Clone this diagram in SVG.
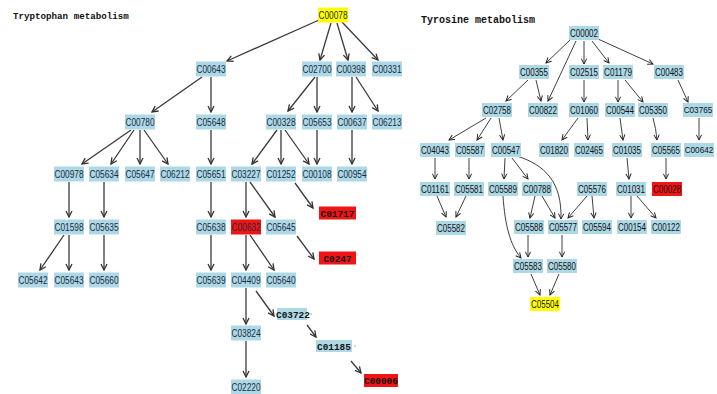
<svg xmlns="http://www.w3.org/2000/svg" width="717" height="394" viewBox="0 0 717 394">
<style>
.b{fill:#add8e6}
.y{fill:#ffff00}
.r{fill:#f01414}
.t{font-family:"Liberation Sans",Arial,sans-serif;font-size:10px;fill:#1b2b40;text-anchor:middle}
.rt{fill:#111}
.sm{font-size:8.2px}
.bt{font-family:"Liberation Mono","Courier New",monospace;font-size:9.4px;font-weight:bold;fill:#111;text-anchor:middle}
.title{font-family:"Liberation Mono","Courier New",monospace;font-weight:bold;fill:#111}
.e line,.e path{fill:none;stroke:#3a3a3a;stroke-width:1.3;marker-end:url(#a)}
.e2 line,.e2 path{fill:none;stroke:#2a2a2a;stroke-width:0.9;marker-end:url(#a2)}
</style>
<defs>
<marker id="a" viewBox="0 0 8 8" refX="7" refY="4" markerWidth="8" markerHeight="8" orient="auto" markerUnits="userSpaceOnUse"><path d="M1,1 L7,4 L1,7" fill="none" stroke="#333" stroke-width="1.3"/></marker>
<marker id="a2" viewBox="0 0 8 8" refX="7" refY="4" markerWidth="7" markerHeight="7" orient="auto" markerUnits="userSpaceOnUse"><path d="M1,1 L7,4 L1,7" fill="none" stroke="#222" stroke-width="1.1"/></marker>
</defs>
<rect width="717" height="394" fill="#fff"/>
<text class="title" x="13" y="19" font-size="9.2">Tryptophan metabolism</text>
<text class="title" x="421" y="23" font-size="10">Tyrosine metabolism</text>

<g id="connectors">
<g class="e">
<line x1="319" y1="20" x2="227" y2="61"/>
<line x1="331" y1="23" x2="320" y2="60"/>
<line x1="337" y1="23" x2="348" y2="60"/>
<line x1="342" y1="22" x2="378" y2="60"/>
<line x1="202" y1="77" x2="152" y2="112"/>
<line x1="211" y1="77" x2="211" y2="112"/>
<line x1="315" y1="77" x2="288" y2="111"/>
<line x1="317" y1="77" x2="317" y2="112"/>
<line x1="352" y1="77" x2="352" y2="112"/>
<line x1="356" y1="77" x2="378" y2="111"/>
<line x1="131" y1="130" x2="82" y2="164"/>
<line x1="134" y1="130" x2="111" y2="164"/>
<line x1="140" y1="130" x2="140" y2="164"/>
<line x1="144" y1="130" x2="168" y2="164"/>
<line x1="211" y1="130" x2="211" y2="164"/>
<line x1="277" y1="130" x2="252" y2="164"/>
<line x1="281" y1="130" x2="281" y2="164"/>
<line x1="285" y1="130" x2="309" y2="164"/>
<line x1="317" y1="130" x2="317" y2="164"/>
<line x1="352" y1="130" x2="352" y2="164"/>
<line x1="69" y1="182" x2="69" y2="217"/>
<line x1="104" y1="182" x2="104" y2="217"/>
<line x1="211" y1="182" x2="211" y2="217"/>
<line x1="246" y1="182" x2="246" y2="217"/>
<line x1="250" y1="182" x2="275" y2="217"/>
<line x1="295" y1="183" x2="313" y2="208"/>
<line x1="64" y1="235" x2="40" y2="270"/>
<line x1="69" y1="235" x2="69" y2="270"/>
<line x1="104" y1="235" x2="104" y2="270"/>
<line x1="211" y1="235" x2="211" y2="270"/>
<line x1="246" y1="235" x2="246" y2="270"/>
<line x1="250" y1="235" x2="274" y2="270"/>
<line x1="297" y1="236" x2="314" y2="259"/>
<line x1="246" y1="288" x2="246" y2="324"/>
<line x1="256" y1="291" x2="274" y2="316"/>
<line x1="307" y1="325" x2="316" y2="337"/>
<line x1="351" y1="361" x2="361" y2="373"/>
<line x1="246" y1="341" x2="246" y2="377"/>
</g>
<g class="e2">
<line x1="570" y1="40" x2="546" y2="63"/>
<line x1="576" y1="41" x2="548" y2="101"/>
<line x1="584" y1="41" x2="584" y2="64"/>
<line x1="592" y1="41" x2="609" y2="63"/>
<line x1="598" y1="39" x2="653" y2="64"/>
<line x1="528" y1="80" x2="506" y2="101"/>
<line x1="536" y1="80" x2="541" y2="101"/>
<line x1="584" y1="80" x2="584" y2="102"/>
<line x1="618" y1="80" x2="618" y2="102"/>
<line x1="625" y1="80" x2="643" y2="102"/>
<line x1="678" y1="80" x2="688" y2="102"/>
<line x1="486" y1="118" x2="449" y2="140"/>
<line x1="491" y1="118" x2="477" y2="140"/>
<line x1="499" y1="118" x2="503" y2="140"/>
<line x1="578" y1="118" x2="562" y2="140"/>
<line x1="587" y1="118" x2="588" y2="140"/>
<line x1="620" y1="118" x2="623" y2="140"/>
<path d="M653,118 Q656,128 657,140"/>
<line x1="699" y1="118" x2="699" y2="140"/>
<line x1="435" y1="158" x2="435" y2="179"/>
<line x1="469" y1="158" x2="469" y2="179"/>
<line x1="505" y1="158" x2="504" y2="179"/>
<line x1="512" y1="158" x2="528" y2="179"/>
<path d="M517,156 C545,165 562,182 561,219"/>
<line x1="627" y1="158" x2="629" y2="179"/>
<line x1="666" y1="158" x2="666" y2="179"/>
<line x1="437" y1="196" x2="446" y2="217"/>
<line x1="466" y1="196" x2="456" y2="217"/>
<path d="M503,196 C505,225 510,245 521,258"/>
<line x1="535" y1="196" x2="530" y2="218"/>
<line x1="542" y1="196" x2="555" y2="218"/>
<line x1="587" y1="196" x2="568" y2="218"/>
<line x1="592" y1="196" x2="594" y2="218"/>
<line x1="631" y1="196" x2="631" y2="218"/>
<line x1="637" y1="196" x2="656" y2="218"/>
<line x1="528" y1="235" x2="528" y2="257"/>
<line x1="562" y1="235" x2="562" y2="257"/>
<line x1="531" y1="274" x2="540" y2="295"/>
<line x1="559" y1="274" x2="550" y2="295"/>
</g>
</g>

<g id="tryptophan">
<g id="C00078"><rect class="y" x="318" y="7.5" width="30" height="15"/><text class="t" x="333" y="18.5" textLength="29" lengthAdjust="spacingAndGlyphs">C00078</text></g>
<g id="C00643"><rect class="b" x="196" y="61.5" width="30" height="15"/><text class="t" x="211" y="72.5" textLength="29" lengthAdjust="spacingAndGlyphs">C00643</text></g>
<g id="C02700"><rect class="b" x="302" y="61.5" width="30" height="15"/><text class="t" x="317" y="72.5" textLength="29" lengthAdjust="spacingAndGlyphs">C02700</text></g>
<g id="C00398"><rect class="b" x="336" y="61.5" width="30" height="15"/><text class="t" x="351" y="72.5" textLength="29" lengthAdjust="spacingAndGlyphs">C00398</text></g>
<g id="C00331"><rect class="b" x="372" y="61.5" width="30" height="15"/><text class="t" x="387" y="72.5" textLength="29" lengthAdjust="spacingAndGlyphs">C00331</text></g>
<g id="C00780"><rect class="b" x="125" y="114.5" width="30" height="15"/><text class="t" x="140" y="125.5" textLength="29" lengthAdjust="spacingAndGlyphs">C00780</text></g>
<g id="C05648"><rect class="b" x="196" y="114.5" width="30" height="15"/><text class="t" x="211" y="125.5" textLength="29" lengthAdjust="spacingAndGlyphs">C05648</text></g>
<g id="C00328"><rect class="b" x="266" y="114.5" width="30" height="15"/><text class="t" x="281" y="125.5" textLength="29" lengthAdjust="spacingAndGlyphs">C00328</text></g>
<g id="C05653"><rect class="b" x="302" y="114.5" width="30" height="15"/><text class="t" x="317" y="125.5" textLength="29" lengthAdjust="spacingAndGlyphs">C05653</text></g>
<g id="C00637"><rect class="b" x="337" y="114.5" width="30" height="15"/><text class="t" x="352" y="125.5" textLength="29" lengthAdjust="spacingAndGlyphs">C00637</text></g>
<g id="C06213"><rect class="b" x="372" y="114.5" width="30" height="15"/><text class="t" x="387" y="125.5" textLength="29" lengthAdjust="spacingAndGlyphs">C06213</text></g>
<g id="C00978"><rect class="b" x="54" y="166.5" width="30" height="15"/><text class="t" x="69" y="177.5" textLength="29" lengthAdjust="spacingAndGlyphs">C00978</text></g>
<g id="C05634"><rect class="b" x="89" y="166.5" width="30" height="15"/><text class="t" x="104" y="177.5" textLength="29" lengthAdjust="spacingAndGlyphs">C05634</text></g>
<g id="C05647"><rect class="b" x="125" y="166.5" width="30" height="15"/><text class="t" x="140" y="177.5" textLength="29" lengthAdjust="spacingAndGlyphs">C05647</text></g>
<g id="C06212"><rect class="b" x="160" y="166.5" width="30" height="15"/><text class="t" x="175" y="177.5" textLength="29" lengthAdjust="spacingAndGlyphs">C06212</text></g>
<g id="C05651"><rect class="b" x="196" y="166.5" width="30" height="15"/><text class="t" x="211" y="177.5" textLength="29" lengthAdjust="spacingAndGlyphs">C05651</text></g>
<g id="C03227"><rect class="b" x="231" y="166.5" width="30" height="15"/><text class="t" x="246" y="177.5" textLength="29" lengthAdjust="spacingAndGlyphs">C03227</text></g>
<g id="C01252"><rect class="b" x="266" y="166.5" width="30" height="15"/><text class="t" x="281" y="177.5" textLength="29" lengthAdjust="spacingAndGlyphs">C01252</text></g>
<g id="C00108"><rect class="b" x="302" y="166.5" width="30" height="15"/><text class="t" x="317" y="177.5" textLength="29" lengthAdjust="spacingAndGlyphs">C00108</text></g>
<g id="C00954"><rect class="b" x="337" y="166.5" width="30" height="15"/><text class="t" x="352" y="177.5" textLength="29" lengthAdjust="spacingAndGlyphs">C00954</text></g>
<g id="C01717"><rect class="r" x="319" y="206.5" width="37" height="13"/><text class="bt" x="337.5" y="216.5">C01717</text></g>
<g id="C01598"><rect class="b" x="54" y="219.5" width="30" height="15"/><text class="t" x="69" y="230.5" textLength="29" lengthAdjust="spacingAndGlyphs">C01598</text></g>
<g id="C05635"><rect class="b" x="89" y="219.5" width="30" height="15"/><text class="t" x="104" y="230.5" textLength="29" lengthAdjust="spacingAndGlyphs">C05635</text></g>
<g id="C05638"><rect class="b" x="196" y="219.5" width="30" height="15"/><text class="t" x="211" y="230.5" textLength="29" lengthAdjust="spacingAndGlyphs">C05638</text></g>
<g id="C00632"><rect class="r" x="231" y="219.5" width="30" height="15"/><text class="t" x="246" y="230.5" textLength="29" lengthAdjust="spacingAndGlyphs">C00632</text></g>
<g id="C05645"><rect class="b" x="266" y="219.5" width="30" height="15"/><text class="t" x="281" y="230.5" textLength="29" lengthAdjust="spacingAndGlyphs">C05645</text></g>
<g id="C0247"><rect class="r" x="319" y="251.5" width="37" height="13"/><text class="bt" x="337.5" y="261.5">C0247</text></g>
<g id="C05642"><rect class="b" x="18" y="272.5" width="30" height="15"/><text class="t" x="33" y="283.5" textLength="29" lengthAdjust="spacingAndGlyphs">C05642</text></g>
<g id="C05643"><rect class="b" x="54" y="272.5" width="30" height="15"/><text class="t" x="69" y="283.5" textLength="29" lengthAdjust="spacingAndGlyphs">C05643</text></g>
<g id="C05660"><rect class="b" x="89" y="272.5" width="30" height="15"/><text class="t" x="104" y="283.5" textLength="29" lengthAdjust="spacingAndGlyphs">C05660</text></g>
<g id="C05639"><rect class="b" x="196" y="272.5" width="30" height="15"/><text class="t" x="211" y="283.5" textLength="29" lengthAdjust="spacingAndGlyphs">C05639</text></g>
<g id="C04409"><rect class="b" x="231" y="272.5" width="30" height="15"/><text class="t" x="246" y="283.5" textLength="29" lengthAdjust="spacingAndGlyphs">C04409</text></g>
<g id="C05640"><rect class="b" x="266" y="272.5" width="30" height="15"/><text class="t" x="281" y="283.5" textLength="29" lengthAdjust="spacingAndGlyphs">C05640</text></g>
<g id="C03722"><rect class="b" x="277" y="308" width="30" height="12"/><text class="bt" x="293" y="317.5">C03722</text><circle cx="311" cy="314" r="0.7" fill="#888"/></g>
<g id="C03824"><rect class="b" x="231" y="325.5" width="30" height="15"/><text class="t" x="246" y="336.5" textLength="29" lengthAdjust="spacingAndGlyphs">C03824</text></g>
<g id="C01185"><rect class="b" x="316" y="340" width="36" height="12"/><text class="bt" x="334" y="349.5">C01185</text><circle cx="355" cy="346" r="0.7" fill="#888"/></g>
<g id="C00006"><rect class="r" x="364" y="374" width="34" height="13"/><text class="bt" x="381" y="384">C00006</text></g>
<g id="C02220"><rect class="b" x="231" y="379.5" width="30" height="15"/><text class="t" x="246" y="390.5" textLength="29" lengthAdjust="spacingAndGlyphs">C02220</text></g>
</g>

<g id="tyrosine">
<g id="C00002"><rect class="b" x="569" y="26" width="30" height="14"/><text class="t rt" x="584" y="36.5" textLength="28" lengthAdjust="spacingAndGlyphs">C00002</text></g>
<g id="C00355"><rect class="b" x="519" y="65" width="30" height="14"/><text class="t rt" x="534" y="75.5" textLength="28" lengthAdjust="spacingAndGlyphs">C00355</text></g>
<g id="C02515"><rect class="b" x="569" y="65" width="30" height="14"/><text class="t rt" x="584" y="75.5" textLength="28" lengthAdjust="spacingAndGlyphs">C02515</text></g>
<g id="C01179"><rect class="b" x="603" y="65" width="30" height="14"/><text class="t rt" x="618" y="75.5" textLength="28" lengthAdjust="spacingAndGlyphs">C01179</text></g>
<g id="C00483"><rect class="b" x="654" y="65" width="30" height="14"/><text class="t rt" x="669" y="75.5" textLength="28" lengthAdjust="spacingAndGlyphs">C00483</text></g>
<g id="C02758"><rect class="b" x="482" y="103" width="30" height="14"/><text class="t rt" x="497" y="113.5" textLength="28" lengthAdjust="spacingAndGlyphs">C02758</text></g>
<g id="C00822"><rect class="b" x="528" y="103" width="30" height="14"/><text class="t rt" x="543" y="113.5" textLength="28" lengthAdjust="spacingAndGlyphs">C00822</text></g>
<g id="C01060"><rect class="b" x="569" y="103" width="30" height="14"/><text class="t rt" x="584" y="113.5" textLength="28" lengthAdjust="spacingAndGlyphs">C01060</text></g>
<g id="C00544"><rect class="b" x="605" y="103" width="30" height="14"/><text class="t rt" x="620" y="113.5" textLength="28" lengthAdjust="spacingAndGlyphs">C00544</text></g>
<g id="C05350"><rect class="b" x="638" y="103" width="30" height="14"/><text class="t rt" x="653" y="113.5" textLength="28" lengthAdjust="spacingAndGlyphs">C05350</text></g>
<g id="C03765"><rect class="b" x="683" y="103" width="30" height="14"/><text class="t rt sm" x="698" y="113">C03765</text></g>
<g id="C04043"><rect class="b" x="420" y="143" width="30" height="14"/><text class="t rt" x="435" y="153.5" textLength="28" lengthAdjust="spacingAndGlyphs">C04043</text></g>
<g id="C05587"><rect class="b" x="455" y="143" width="30" height="14"/><text class="t rt" x="470" y="153.5" textLength="28" lengthAdjust="spacingAndGlyphs">C05587</text></g>
<g id="C00547"><rect class="b" x="491" y="143" width="30" height="14"/><text class="t rt" x="506" y="153.5" textLength="28" lengthAdjust="spacingAndGlyphs">C00547</text></g>
<g id="C01820"><rect class="b" x="539" y="143" width="30" height="14"/><text class="t rt" x="554" y="153.5" textLength="28" lengthAdjust="spacingAndGlyphs">C01820</text></g>
<g id="C02465"><rect class="b" x="574" y="143" width="30" height="14"/><text class="t rt" x="589" y="153.5" textLength="28" lengthAdjust="spacingAndGlyphs">C02465</text></g>
<g id="C01035"><rect class="b" x="612" y="143" width="30" height="14"/><text class="t rt" x="627" y="153.5" textLength="28" lengthAdjust="spacingAndGlyphs">C01035</text></g>
<g id="C05565"><rect class="b" x="651" y="143" width="30" height="14"/><text class="t rt" x="666" y="153.5" textLength="28" lengthAdjust="spacingAndGlyphs">C05565</text></g>
<g id="C00642"><rect class="b" x="684" y="143" width="30" height="14"/><text class="t rt sm" x="699" y="153">C00642</text></g>
<g id="C01161"><rect class="b" x="420" y="182" width="30" height="14"/><text class="t rt" x="435" y="192.5" textLength="28" lengthAdjust="spacingAndGlyphs">C01161</text></g>
<g id="C05581"><rect class="b" x="454" y="182" width="30" height="14"/><text class="t rt" x="469" y="192.5" textLength="28" lengthAdjust="spacingAndGlyphs">C05581</text></g>
<g id="C05589"><rect class="b" x="488" y="182" width="30" height="14"/><text class="t rt" x="503" y="192.5" textLength="28" lengthAdjust="spacingAndGlyphs">C05589</text></g>
<g id="C00788"><rect class="b" x="522" y="182" width="30" height="14"/><text class="t rt" x="537" y="192.5" textLength="28" lengthAdjust="spacingAndGlyphs">C00788</text></g>
<g id="C05576"><rect class="b" x="577" y="182" width="30" height="14"/><text class="t rt" x="592" y="192.5" textLength="28" lengthAdjust="spacingAndGlyphs">C05576</text></g>
<g id="C01031"><rect class="b" x="616" y="182" width="30" height="14"/><text class="t rt" x="631" y="192.5" textLength="28" lengthAdjust="spacingAndGlyphs">C01031</text></g>
<g id="C00028"><rect class="r" x="652" y="182" width="30" height="14"/><text class="t rt" x="667" y="192.5" textLength="28" lengthAdjust="spacingAndGlyphs">C00028</text></g>
<g id="C05582"><rect class="b" x="436" y="221" width="30" height="14"/><text class="t rt" x="451" y="231.5" textLength="28" lengthAdjust="spacingAndGlyphs">C05582</text></g>
<g id="C05588"><rect class="b" x="514" y="220" width="30" height="14"/><text class="t rt" x="529" y="230.5" textLength="28" lengthAdjust="spacingAndGlyphs">C05588</text></g>
<g id="C05577"><rect class="b" x="548" y="220" width="30" height="14"/><text class="t rt" x="563" y="230.5" textLength="28" lengthAdjust="spacingAndGlyphs">C05577</text></g>
<g id="C05594"><rect class="b" x="582" y="220" width="30" height="14"/><text class="t rt" x="597" y="230.5" textLength="28" lengthAdjust="spacingAndGlyphs">C05594</text></g>
<g id="C00154"><rect class="b" x="617" y="220" width="30" height="14"/><text class="t rt" x="632" y="230.5" textLength="28" lengthAdjust="spacingAndGlyphs">C00154</text></g>
<g id="C00122"><rect class="b" x="651" y="220" width="30" height="14"/><text class="t rt" x="666" y="230.5" textLength="28" lengthAdjust="spacingAndGlyphs">C00122</text></g>
<g id="C05583"><rect class="b" x="513" y="259" width="30" height="14"/><text class="t rt" x="528" y="269.5" textLength="28" lengthAdjust="spacingAndGlyphs">C05583</text></g>
<g id="C05580"><rect class="b" x="547" y="259" width="30" height="14"/><text class="t rt" x="562" y="269.5" textLength="28" lengthAdjust="spacingAndGlyphs">C05580</text></g>
<g id="C05504"><rect class="y" x="530" y="297" width="30" height="14"/><text class="t rt" x="545" y="307.5" textLength="28" lengthAdjust="spacingAndGlyphs">C05504</text></g>
</g>
</svg>
